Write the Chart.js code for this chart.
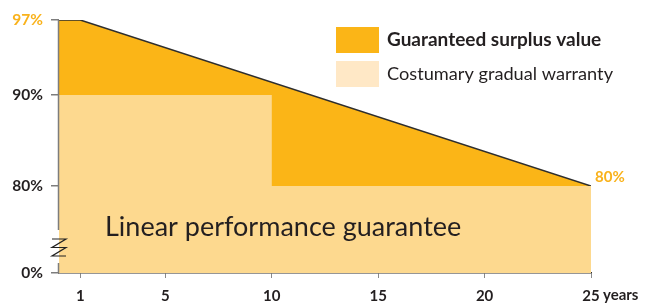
<!DOCTYPE html>
<html>
<head>
<meta charset="utf-8">
<script src="https://cdn.jsdelivr.net/npm/chart.js@4"></script>
<style>
  html, body { margin: 0; padding: 0; background: #fff; }
  #wrap { width: 651px; height: 305px; }
</style>
</head>
<body>
<div id="wrap"><canvas id="chart" width="651" height="305"></canvas></div>
<script>
// Data
const surplusYears = [0, 1, 25];
const surplusValues = [97, 97, 80];
const customaryYears = [0, 10, 10, 25];
const customaryValues = [90, 90, 80, 80];
const xTicks = [1, 5, 10, 15, 20, 25];
const yTickValues = [0, 80, 90, 97];
const legendLabels = ["Guaranteed surplus value", "Costumary gradual warranty"];
const areaLabel = "Linear performance guarantee";

const ORANGE = "#fbb517";
const LIGHT = "#fdd98f";
const LEGEND_LIGHT = "#ffe8c6";
const TEXT = "#231f20";
const ORANGE_TEXT = "#f9b21b";
const FONT = "Lato, 'DejaVu Sans', sans-serif";

// broken y axis: values are mapped piecewise onto the axis
const knotVals = [0, 80, 90, 97];
const knotPos = [0, 87, 178, 253];
function toAxis(v) {
  for (let i = 1; i < knotVals.length; i++) {
    if (v <= knotVals[i]) {
      const t = (v - knotVals[i - 1]) / (knotVals[i] - knotVals[i - 1]);
      return knotPos[i - 1] + t * (knotPos[i] - knotPos[i - 1]);
    }
  }
  return knotPos[knotPos.length - 1];
}
function fromAxis(p) {
  const i = knotPos.indexOf(p);
  return i >= 0 ? knotVals[i] : null;
}

const toPoints = (xs, ys) => xs.map((x, i) => ({ x: x, y: toAxis(ys[i]) }));

// extra drawing: legend, axis break, labels
const decorations = {
  id: "decorations",
  afterDraw(chart) {
    const ctx = chart.ctx;
    const x = chart.scales.x, y = chart.scales.y;
    const left = chart.chartArea.left;
    ctx.save();

    // y axis line with a gap
    ctx.strokeStyle = "#7d7d7d";
    ctx.lineWidth = 1.5;
    ctx.beginPath();
    ctx.moveTo(left - 0.5, y.getPixelForValue(toAxis(97)));
    ctx.lineTo(left - 0.5, 230);
    ctx.moveTo(left - 0.5, 263);
    ctx.lineTo(left - 0.5, y.getPixelForValue(0));
    ctx.stroke();

    // zigzag break mark
    ctx.strokeStyle = "#222";
    ctx.lineWidth = 1.2;
    ctx.beginPath();
    ctx.moveTo(52, 239);
    ctx.lineTo(66, 239);
    ctx.lineTo(52, 247.5);
    ctx.lineTo(66, 247.5);
    ctx.lineTo(52, 256);
    ctx.lineTo(66, 256);
    ctx.stroke();

    // end label
    ctx.fillStyle = ORANGE_TEXT;
    ctx.font = "bold 15px " + FONT;
    ctx.textAlign = "left";
    ctx.textBaseline = "middle";
    const ex = x.getPixelForValue(surplusYears[surplusYears.length - 1]);
    const ey = y.getPixelForValue(toAxis(surplusValues[surplusValues.length - 1]));
    ctx.fillText(surplusValues[surplusValues.length - 1] + "%", ex + 4, ey - 9);

    // "years" after the last tick label
    ctx.fillStyle = TEXT;
    ctx.font = "bold 15px " + FONT;
    ctx.fillText("years", x.getPixelForValue(25) + 12, 295);

    // area label
    ctx.font = "27px " + FONT;
    ctx.textBaseline = "alphabetic";
    ctx.fillText(areaLabel, 105, 236);

    // legend
    ctx.fillStyle = ORANGE;
    ctx.fillRect(336, 27, 43, 26);
    ctx.fillStyle = LEGEND_LIGHT;
    ctx.fillRect(336, 61, 43, 26);
    ctx.fillStyle = TEXT;
    ctx.textBaseline = "middle";
    ctx.font = "bold 19px " + FONT;
    ctx.fillText(legendLabels[0], 387, 40);
    ctx.font = "18.2px " + FONT;
    ctx.fillText(legendLabels[1], 387, 74);

    ctx.restore();
  }
};

new Chart(document.getElementById("chart"), {
  type: "line",
  data: {
    datasets: [
      {
        label: legendLabels[1],
        data: toPoints(customaryYears, customaryValues),
        backgroundColor: LIGHT,
        borderWidth: 0,
        pointRadius: 0,
        fill: "origin"
      },
      {
        label: legendLabels[0],
        data: toPoints(surplusYears, surplusValues),
        backgroundColor: ORANGE,
        borderColor: "#2e2e2e",
        borderWidth: 1.5,
        pointRadius: 0,
        fill: "origin"
      },
      {
        label: "edge",
        data: toPoints([25, 25], [80, 0]),
        borderColor: "#2e2e2e",
        borderWidth: 1.5,
        pointRadius: 0,
        fill: false
      }
    ]
  },
  options: {
    responsive: false,
    animation: false,
    layout: { padding: { left: 0, right: 60, top: 20, bottom: 0 } },
    plugins: { legend: { display: false }, tooltip: { enabled: false } },
    elements: { line: { tension: 0 } },
    scales: {
      x: {
        type: "linear",
        min: 0,
        max: 25,
        afterBuildTicks: s => { s.ticks = xTicks.map(v => ({ value: v })); },
        afterFit: s => { s.height = 32; },
        border: { display: true, color: "#2e2e2e", width: 1.5 },
        grid: { drawOnChartArea: false, drawTicks: true, tickLength: 5, color: "#8a8a8a" },
        ticks: {
          autoSkip: false,
          maxRotation: 0,
          padding: 9,
          color: TEXT,
          font: { family: FONT, size: 15, weight: "bold" },
          callback: v => String(v)
        }
      },
      y: {
        type: "linear",
        min: 0,
        max: knotPos[knotPos.length - 1],
        afterBuildTicks: s => { s.ticks = yTickValues.map(v => ({ value: toAxis(v) })); },
        afterFit: s => { s.width = 59; },
        border: { display: false },
        grid: { drawOnChartArea: false, drawTicks: true, tickLength: 8, color: "#7d7d7d", lineWidth: 1.5 },
        ticks: {
          autoSkip: false,
          padding: 8,
          color: c => (c.tick && fromAxis(c.tick.value) === 97 ? ORANGE_TEXT : TEXT),
          font: { family: FONT, size: 15.5, weight: "bold" },
          callback: v => fromAxis(v) + "%"
        }
      }
    }
  },
  plugins: [decorations]
});
</script>
</body>
</html>
